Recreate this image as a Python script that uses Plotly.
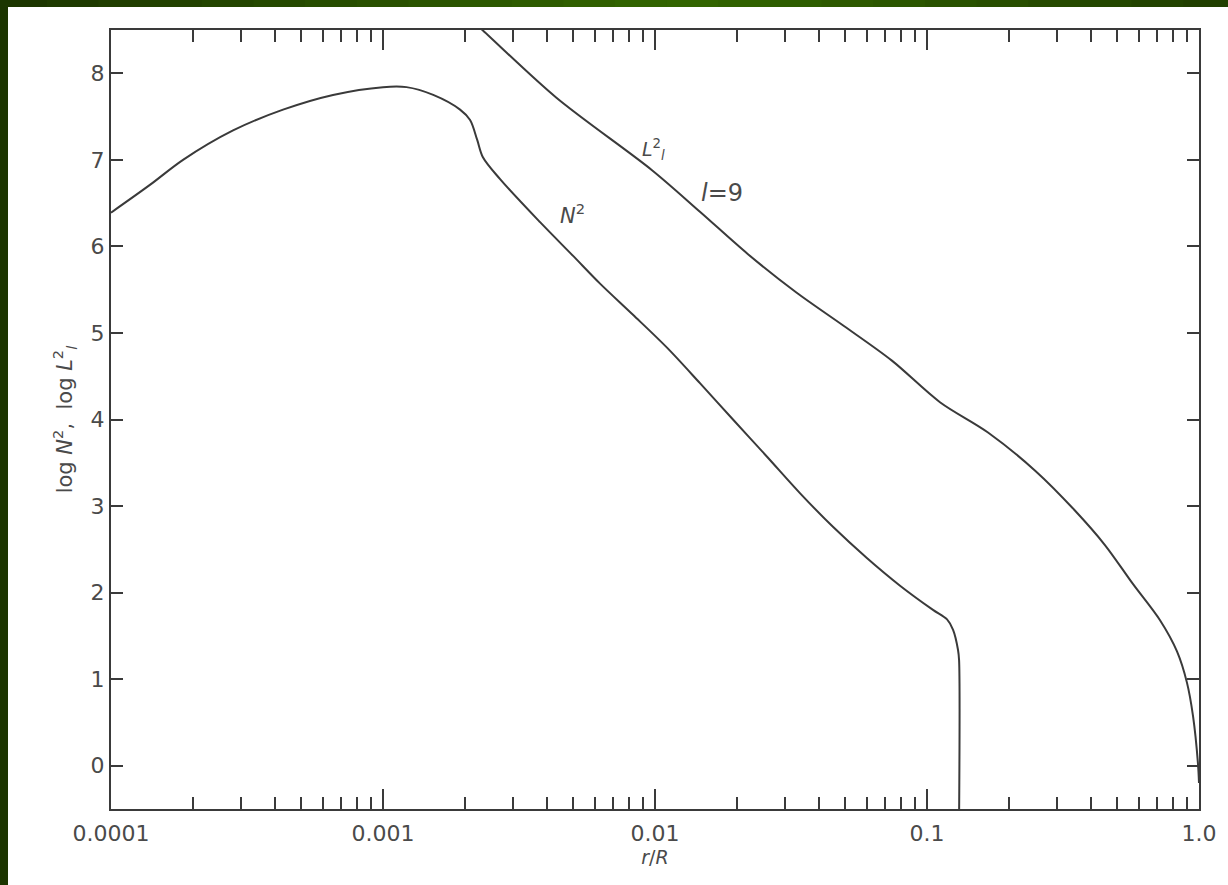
import plotly.graph_objects as go

# ---- data ----
n2_r = [1.0e-4, 1.39e-4, 1.84e-4, 2.81e-4, 4.29e-4, 6.55e-4, 1.0e-3, 1.22e-3, 1.53e-3,
        1.92e-3, 2.09e-3, 2.22e-3, 2.33e-3, 2.69e-3, 3.78e-3, 5.0e-3, 6.28e-3, 8.30e-3,
        0.01107, 0.01463, 0.01935, 0.02582, 0.0341, 0.0451, 0.0601, 0.0796, 0.1052,
        0.1185, 0.1247, 0.130, 0.1312, 0.1312]
n2_log = [6.39, 6.71, 7.00, 7.34, 7.58, 7.75, 7.84, 7.84, 7.75,
          7.58, 7.46, 7.23, 7.03, 6.78, 6.28, 5.89, 5.57, 5.21,
          4.83, 4.42, 4.00, 3.57, 3.15, 2.76, 2.40, 2.08, 1.80,
          1.69, 1.57, 1.34, 1.22, -0.6]

l2_r = [2.13e-3, 2.30e-3, 4.33e-3, 9.75e-3, 0.01463, 0.02197, 0.0330, 0.0495, 0.0743,
        0.1116, 0.1676, 0.2516, 0.347, 0.451, 0.5715, 0.719, 0.830, 0.903, 0.951, 0.991, 1.0]
l2_log = [8.60, 8.51, 7.72, 6.88, 6.40, 5.91, 5.47, 5.08, 4.68,
          4.20, 3.85, 3.40, 2.96, 2.55, 2.10, 1.68, 1.32, 0.96, 0.57, 0.03, -0.2]

x_tickvals = [1e-4, 1e-3, 1e-2, 1e-1, 1.0]
x_ticktext = ["0.0001", "0.001", "0.01", "0.1", "1.0"]
y_tickvals = [0, 1, 2, 3, 4, 5, 6, 7, 8]

minor_vals = [k * 10.0 ** e for e in range(-4, 0) for k in range(2, 10)]

LINE = "#3a3a3a"
TXT = "#4a4a4a"
FONT = "DejaVu Sans, Verdana, sans-serif"

fig = go.Figure()
fig.add_trace(go.Scatter(x=n2_r, y=n2_log, mode="lines",
                         line=dict(color=LINE, width=2, shape="spline", smoothing=0.9),
                         showlegend=False, hoverinfo="skip"))
fig.add_trace(go.Scatter(x=l2_r, y=l2_log, mode="lines",
                         line=dict(color=LINE, width=2, shape="spline", smoothing=0.9),
                         showlegend=False, hoverinfo="skip"))

fig.update_xaxes(type="log", range=[-4, 0], tickvals=x_tickvals, ticktext=x_ticktext,
                 ticks="inside", ticklen=20, tickwidth=1.5, tickcolor=LINE,
                 minor=dict(tickvals=minor_vals, ticks="inside", ticklen=12,
                            tickwidth=1.5, tickcolor=LINE, showgrid=False),
                 showline=True, linecolor=LINE, linewidth=2, mirror="ticks",
                 showgrid=False, zeroline=False, ticklabelstandoff=4,
                 tickfont=dict(family=FONT, size=22, color=TXT),
                 title=dict(text="<i>r</i>/<i>R</i>", font=dict(family=FONT, size=19, color=TXT),
                            standoff=2))
fig.update_yaxes(range=[-0.5, 8.5], tickvals=y_tickvals,
                 ticks="inside", ticklen=12, tickwidth=1.5, tickcolor=LINE,
                 showline=True, linecolor=LINE, linewidth=2, mirror="ticks",
                 showgrid=False, zeroline=False,
                 tickfont=dict(family=FONT, size=22, color=TXT),
                 title=dict(text="log <i>N</i><sup>2</sup>,  log <i>L</i><sup>2</sup><sub><i>l</i></sub>",
                            font=dict(family=FONT, size=21, color=TXT), standoff=12))

annots = [
    dict(x=-2.004, y=7.12, text="<i>L</i><sup>2</sup><sub><i>l</i></sub>", size=19),
    dict(x=-1.752, y=6.62, text="<i>l</i>=9", size=24),
    dict(x=-2.305, y=6.37, text="<i>N</i><sup>2</sup>", size=21),
]
for a in annots:
    fig.add_annotation(x=a["x"], y=a["y"], text=a["text"], showarrow=False,
                       xref="x", yref="y", font=dict(family=FONT, size=a["size"], color=TXT))

# decorative green frame (slide border)
shapes = []
PW, PH = 1088.0, 779.0
def px2paper_x(px):
    return (px - 111) / PW
def py2paper_y(py):
    return (809 - py) / PH
shapes.append(dict(type="rect", xref="paper", yref="paper",
                   x0=px2paper_x(-5), x1=px2paper_x(8), y0=py2paper_y(890), y1=py2paper_y(-5),
                   fillcolor="#1c3500", line=dict(width=0), layer="above"))
nseg = 24
for i in range(nseg):
    t = (i + 0.5) / nseg
    k = 1 - abs(t - 0.55) / 0.55
    k = max(0.0, min(1.0, k))
    r = int(0x1c + (0x33 - 0x1c) * k)
    g = int(0x35 + (0x66 - 0x35) * k)
    col = "#%02x%02x00" % (r, g)
    shapes.append(dict(type="rect", xref="paper", yref="paper",
                       x0=px2paper_x(-5 + i * 1240 / nseg), x1=px2paper_x(-5 + (i + 1) * 1240 / nseg + 1),
                       y0=py2paper_y(7), y1=py2paper_y(-5),
                       fillcolor=col, line=dict(width=0), layer="above"))
fig.update_layout(shapes=shapes)

fig.update_layout(width=1228, height=885,
                  margin=dict(l=111, r=29, t=30, b=76),
                  paper_bgcolor="white", plot_bgcolor="white",
                  font=dict(family=FONT, color=TXT))

fig.write_html("out.html", config={"displayModeBar": False},
               post_script="document.body.style.margin='0px';document.body.style.overflow='hidden';")
